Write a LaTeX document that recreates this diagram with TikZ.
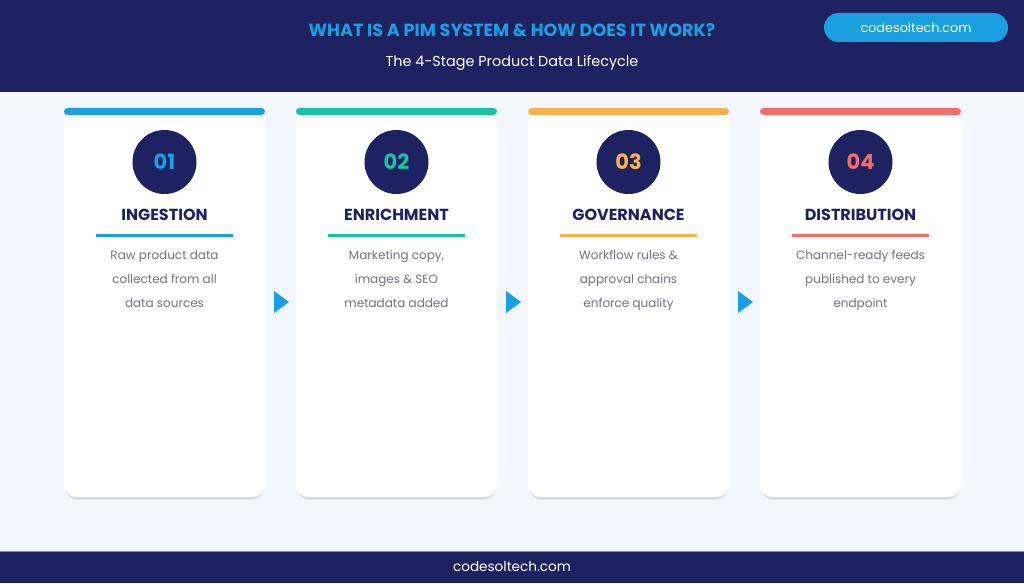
\documentclass[tikz,border=0pt]{standalone}
\usepackage{fontspec}
\setmainfont{Poppins}
\usetikzlibrary{positioning}
\definecolor{navy}{HTML}{1F2260}
\definecolor{bgc}{HTML}{F3F7FD}
\definecolor{cblue}{HTML}{1A9FE0}
\definecolor{cteal}{HTML}{17C3A0}
\definecolor{corange}{HTML}{F6B24B}
\definecolor{cred}{HTML}{F06E6C}
\definecolor{bodygray}{HTML}{73747F}
\definecolor{shadowc}{HTML}{D4D8E8}
\tikzset{
  numcircle/.style={circle, fill=navy, minimum size=64pt, inner sep=0pt, font=\fontsize{21}{21}\selectfont\bfseries},
  stagetitle/.style={font=\fontsize{16}{16}\selectfont\bfseries, text=navy, inner sep=0pt},
  bodytext/.style={font=\fontsize{12}{24}\selectfont, text=bodygray, align=center, inner sep=0pt, anchor=north},
  arrowtri/.style={fill=cblue},
}
\begin{document}
\begin{tikzpicture}[x=1pt,y=-1pt]
\useasboundingbox (0,0) rectangle (1024,583);
% background
\fill[bgc] (0,0) rectangle (1024,583);
\fill[navy] (0,0) rectangle (1024,92);
\fill[navy] (0,552) rectangle (1024,583);
\draw[line width=0.8pt, color=navy!55!white] (0,551.6) -- (1024,551.6);
% header texts
\node[font=\fontsize{17.6}{17.6}\selectfont\bfseries, text=cblue, inner sep=0pt] (title) at (512,30) {WHAT IS A PIM SYSTEM \& HOW DOES IT WORK?};
\node[font=\fontsize{14.4}{14.4}\selectfont, text=white, inner sep=0pt] (subtitle) at (512,63) {The 4-Stage Product Data Lifecycle};
\node[fill=cblue, rounded corners=14.5pt, minimum width=184pt, minimum height=29pt, inner sep=0pt, text=white, font=\fontsize{12.8}{12.8}\selectfont] (pill) at (916,27.5) {codesoltech.com};
\node[font=\fontsize{13.6}{13.6}\selectfont, text=white, inner sep=0pt] (footer) at (512,567) {codesoltech.com};
% cards
\foreach \i/\x/\col/\num/\ttl/\la/\lb/\lc in {
  1/64/cblue/01/INGESTION/Raw product data/collected from all/data sources,
  2/296/cteal/02/ENRICHMENT/{Marketing copy,}/images \& SEO/metadata added,
  3/528/corange/03/GOVERNANCE/Workflow rules \&/approval chains/enforce quality,
  4/760/cred/04/DISTRIBUTION/Channel-ready feeds/published to every/endpoint}{
  \fill[shadowc, rounded corners=12pt] (\x+1,114) rectangle (\x+200,499.5);
  \fill[white, rounded corners=12pt] (\x,111) rectangle (\x+201,497);
  \fill[\col, rounded corners=3.5pt] (\x,108) rectangle (\x+201,115);
  \node[numcircle, text=\col] (num\i) at (\x+100.5,162) {\num};
  \node[stagetitle] (ttl\i) at (\x+100.5,215) {\ttl};
  \draw[\col, line width=3pt] (\x+32,235) -- (\x+169,235);
  \node[bodytext] (body\i) at (\x+100.5,250.5) {\la\\\lb\\\lc};
}
% arrows between cards
\foreach \i/\x in {1/274,2/506,3/738}{
  \coordinate (arr\i) at (\x,302);
  \fill[arrowtri] (arr\i) ++(0,-11) -- ++(15,11) -- ++(-15,11) -- cycle;
}
\end{tikzpicture}
\end{document}
